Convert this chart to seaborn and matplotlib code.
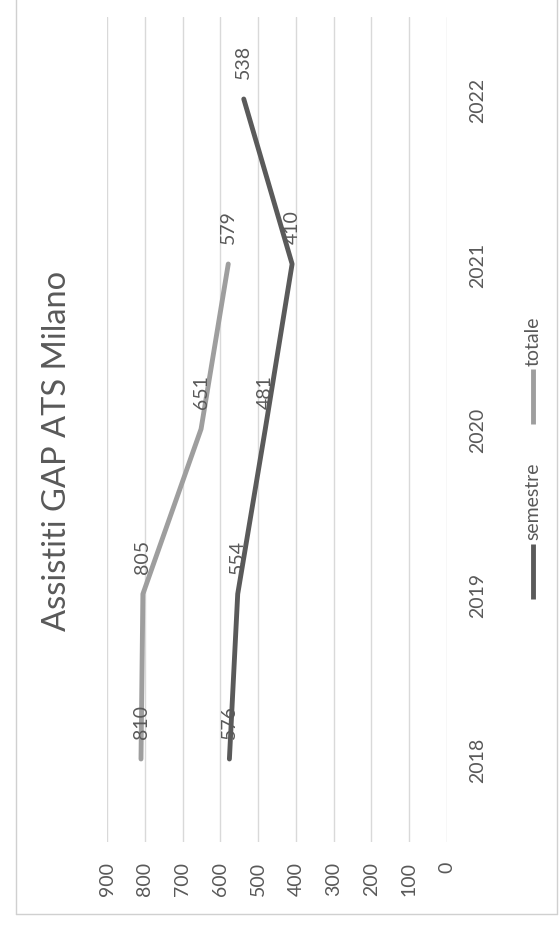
import matplotlib
matplotlib.use("Agg")
import matplotlib.pyplot as plt
from matplotlib.lines import Line2D
import seaborn as sns
import pandas as pd

# ---- data ----
years = [2018, 2019, 2020, 2021, 2022]
semestre = [576, 554, 481, 410, 538]
totale = [810, 805, 651, 579, None]
value_ticks = [0, 100, 200, 300, 400, 500, 600, 700, 800, 900]
title = "Assistiti GAP ATS Milano"
series_names = ["semestre", "totale"]
colors = {"semestre": "#5a5a5a", "totale": "#9e9e9e"}

rows = []
for name, vals in zip(series_names, [semestre, totale]):
    for y, v in zip(years, vals):
        if v is not None:
            rows.append({"serie": name, "anno": y, "valore": v})
df = pd.DataFrame(rows)

sns.set_style("white")
plt.rcParams["font.family"] = ["Lato", "DejaVu Sans"]
text_color = "#595959"

W, H = 559, 929
fig = plt.figure(figsize=(W / 100, H / 100), dpi=100)

# axes placed in pixel terms (chart is rotated 90 degrees counter-clockwise)
x0, x1 = 107, 447      # value 900 .. 0
y0, y1 = 17.5, 842.5   # top .. bottom
ax = fig.add_axes([x0 / W, 1 - y1 / H, (x1 - x0) / W, (y1 - y0) / H])

sns.lineplot(data=df, x="valore", y="anno", hue="serie", palette=colors,
             orient="y", sort=True, linewidth=3.5, legend=False, ax=ax,
             solid_capstyle="round")

ax.set_xlim(900, 0)
ax.set_ylim(2017.5, 2022.5)
ax.set_xticks(value_ticks)
ax.set_xticklabels([str(v) for v in value_ticks], rotation=90, fontsize=14,
                   color=text_color)
ax.set_yticks(years)
ax.yaxis.tick_right()
ax.set_yticklabels([str(y) for y in years], rotation=90, va="center",
                   fontsize=14, color=text_color)
ax.tick_params(axis="x", length=0, pad=14)
ax.tick_params(axis="y", length=0, pad=16)
ax.grid(axis="x", color="#d9d9d9", linewidth=1)
ax.grid(axis="y", visible=False)
for s in ax.spines.values():
    s.set_visible(False)
ax.set_xlabel("")
ax.set_ylabel("")
ax.set_facecolor("none")

# data labels
for _, r in df.iterrows():
    ax.annotate(str(int(r["valore"])), xy=(r["valore"], r["anno"]),
                xytext=(0, 15), textcoords="offset points", rotation=90,
                ha="center", va="bottom", fontsize=14, color=text_color)

# title
fig.text(57 / W, 1 - 451 / H, title, rotation=90, ha="center", va="center",
         fontsize=23.5, color=text_color)

# legend (drawn rotated)
lx = 533 / W
leg_items = [("semestre", 600, 545, 540), ("totale", 425, 370, 366)]
for name, ya, yb, yt in leg_items:
    fig.add_artist(Line2D([lx, lx], [1 - ya / H, 1 - yb / H],
                          transform=fig.transFigure, color=colors[name],
                          linewidth=3.5, solid_capstyle="butt"))
    fig.text(lx, 1 - yt / H, name, rotation=90, ha="center", va="bottom",
             fontsize=14, color=text_color)

# chart border
bc = "#d0d0d0"
fig.add_artist(Line2D([16 / W, 16 / W], [1 - 915 / H, 1.0],
                      transform=fig.transFigure, color=bc, linewidth=1))
fig.add_artist(Line2D([16 / W, 557 / W], [1 - 915 / H, 1 - 915 / H],
                      transform=fig.transFigure, color=bc, linewidth=1))
fig.add_artist(Line2D([557 / W, 557 / W], [1 - 915 / H, 1.0],
                      transform=fig.transFigure, color=bc, linewidth=1))

fig.savefig("out.png", dpi=100, facecolor="white")
